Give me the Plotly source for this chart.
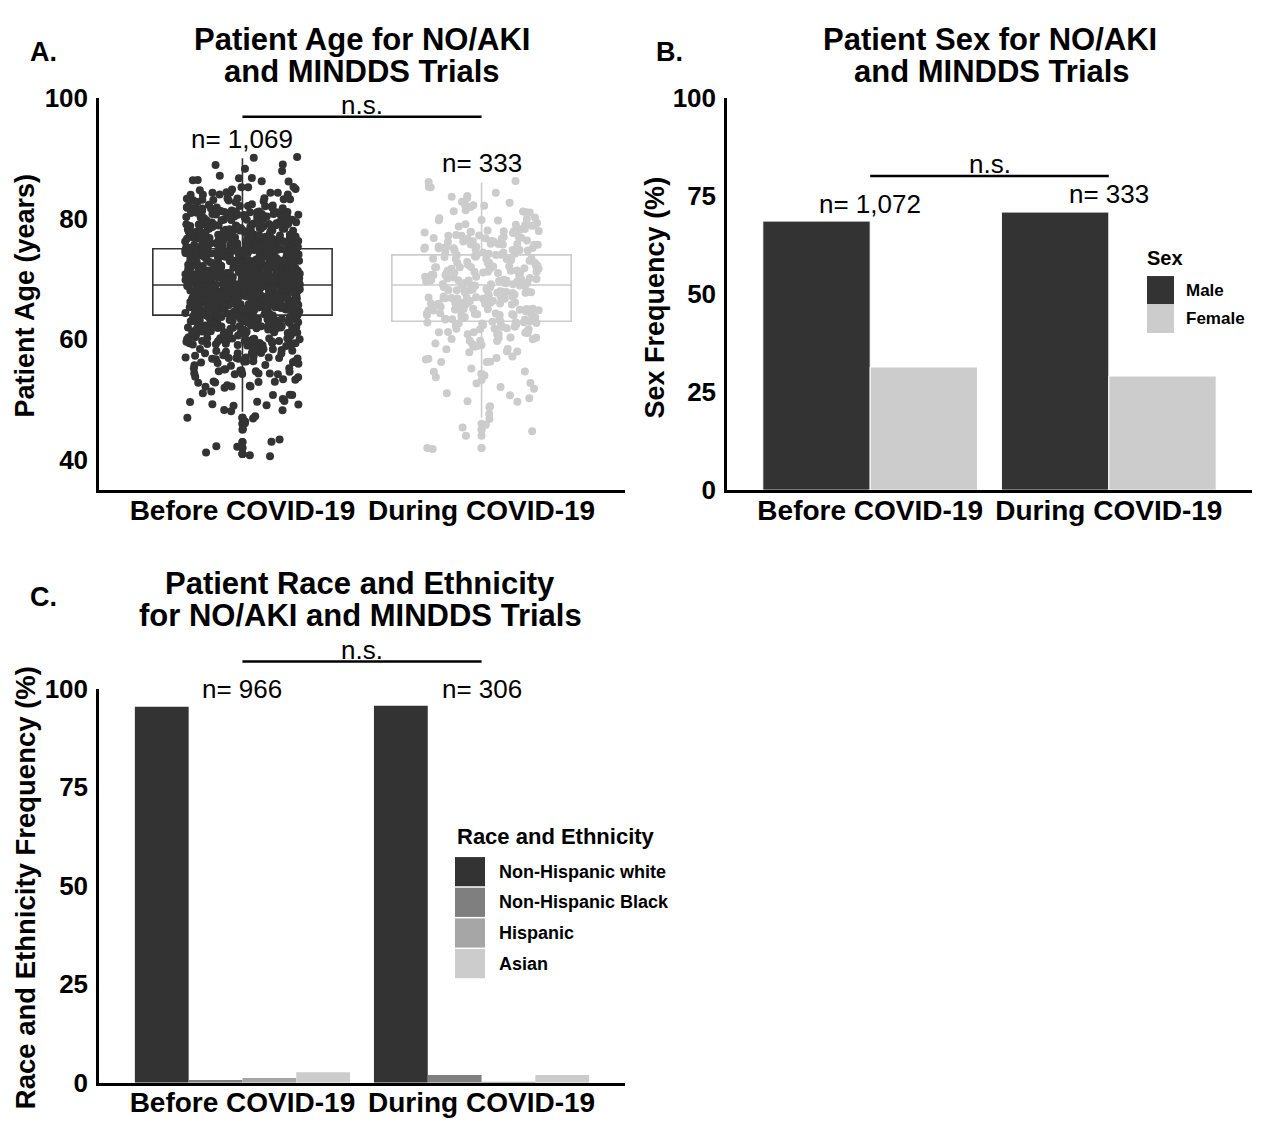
import math
import plotly.graph_objects as go

# ---------------- data ----------------
categories = ["Before COVID-19", "During COVID-19"]

# Panel A: patient ages (count of patients per age, read from the jitter cloud)
ages_before = list(range(41, 91))
counts_before = [3, 2, 2, 0, 1, 2, 3, 3, 4, 4,
                 5, 6, 7, 8, 9, 11, 13, 15, 19, 23,
                 28, 32, 36, 40, 46, 50, 52, 56, 56, 55,
                 53, 51, 49, 46, 43, 39, 34, 30, 27, 25,
                 22, 18, 13, 9, 6, 4, 3, 2, 2, 2]
ages_during = list(range(42, 87))
counts_during = [2, 0, 1, 2, 1, 1, 1, 2, 3, 2,
                 2, 3, 3, 3, 3, 4, 5, 6, 8, 10,
                 12, 14, 15, 15, 16, 16, 16, 16, 15, 15,
                 14, 13, 12, 14, 13, 12, 11, 7, 6, 5,
                 4, 3, 3, 2, 2]

box_q1 = [64, 63]
box_median = [69, 69]
box_q3 = [75, 74]
box_lowerfence = [48, 47]
box_upperfence = [90, 86]
n_age = ["n= 1,069", "n= 333"]
n_age_y = [93.2, 89.2]
ns_age_y = 96.9

# Panel B: sex frequency (%)
sex_groups = ["Male", "Female"]
sex_male = [68.6, 70.9]
sex_female = [31.4, 29.1]
n_sex = ["n= 1,072", "n= 333"]
n_sex_y = [73.0, 75.4]
ns_sex_y = 80.1

# Panel C: race and ethnicity frequency (%)
race_groups = ["Non-Hispanic white", "Non-Hispanic Black", "Hispanic", "Asian"]
race_nhw = [95.4, 95.7]
race_nhb = [0.7, 2.0]
race_hisp = [1.2, 0.3]
race_asian = [2.7, 2.0]
n_race = ["n= 966", "n= 306"]
n_race_y = [100.0, 100.0]
ns_race_y = 106.9

# ---------------- styles ----------------
OFF = 8                      # page body margin
W, H = 1262 - OFF, 1129 - OFF
FONT = "Liberation Sans, Arial, sans-serif"
DARK = "#333333"
LIGHT = "#cccccc"
race_colors = ["#333333", "#7f7f7f", "#a6a6a6", "#cccccc"]
sex_colors = [DARK, LIGHT]
group_colors = [DARK, LIGHT]
JIT_W, JIT_H = 0.24, 0.4
PT = 8


def px(x):
    return (x - OFF) / W


def py(y):
    return 1 - (y - OFF) / H


def scramble(i, k):
    """deterministic scatter offset in [0, 1) used only for jitter placement"""
    v = math.sin(i * 12.9898 + k * 78.233) * 43758.5453
    return v - math.floor(v)


fig = go.Figure()

# ---------------- Panel A ----------------
groups = [(ages_before, counts_before), (ages_during, counts_during)]
for gi in range(2):
    fig.add_trace(go.Box(
        x=[gi], q1=[box_q1[gi]], median=[box_median[gi]], q3=[box_q3[gi]],
        lowerfence=[box_lowerfence[gi]], upperfence=[box_upperfence[gi]],
        width=0.75, whiskerwidth=0, fillcolor="white",
        line=dict(color=group_colors[gi], width=1.6),
        boxpoints=False, showlegend=False, xaxis="x", yaxis="y", hoverinfo="skip"))

for gi, (ages, counts) in enumerate(groups):
    values = [a for a, c in zip(ages, counts) for _ in range(c)]
    outl = [v for v in values if v < box_lowerfence[gi] or v > box_upperfence[gi]]
    fig.add_trace(go.Scatter(
        x=[gi] * len(outl), y=outl, mode="markers", xaxis="x", yaxis="y",
        marker=dict(color=group_colors[gi], size=PT, line=dict(width=0)),
        showlegend=False, hoverinfo="skip"))
    xs, ys = [], []
    for i, v in enumerate(values):
        jx = (scramble(i, 1 + gi) - 0.5) * 2 * JIT_W
        jy = (scramble(i, 11 + gi) - 0.5) * 2 * JIT_H
        xs.append(gi + jx)
        ys.append(v + jy)
    fig.add_trace(go.Scatter(
        x=xs, y=ys, mode="markers", xaxis="x", yaxis="y",
        marker=dict(color=group_colors[gi], size=PT, line=dict(width=0)),
        showlegend=False, hoverinfo="skip"))

# ---------------- Panel B ----------------
for si, (name, vals) in enumerate(zip(sex_groups, [sex_male, sex_female])):
    fig.add_trace(go.Bar(
        x=[0, 1], y=vals, name=name,
        marker=dict(color=sex_colors[si], line=dict(color="white", width=1)),
        xaxis="x2", yaxis="y2", showlegend=False, offsetgroup=str(si)))

# ---------------- Panel C ----------------
for ri, (name, vals) in enumerate(zip(race_groups, [race_nhw, race_nhb, race_hisp, race_asian])):
    fig.add_trace(go.Bar(
        x=[0, 1], y=vals, name=name, marker=dict(color=race_colors[ri], line=dict(width=0)),
        xaxis="x3", yaxis="y3", showlegend=False, offsetgroup=str(ri)))

# ---------------- axes ----------------
ytick_font = dict(family=FONT, size=26, color="black", weight="bold")
xtick_font = dict(family=FONT, size=28, color="black", weight="bold")
common_x = dict(range=[-0.6, 1.6], tickvals=[0, 1], ticktext=categories, showline=True,
                linecolor="black", linewidth=2.5, ticks="", showgrid=False, zeroline=False,
                tickfont=xtick_font, fixedrange=True, ticklabelstandoff=-7)
common_y = dict(showline=True, linecolor="black", linewidth=2.5, ticks="", showgrid=False,
                zeroline=False, tickfont=ytick_font, fixedrange=True, ticklabelstandoff=3)

yA = [35, 100]
yB = [0, 100]
yC = [0, 100]

fig.update_layout(
    xaxis=dict(common_x, domain=[px(99), px(625)], anchor="y"),
    yaxis=dict(common_y, domain=[py(488), py(85)], range=yA, tickvals=[40, 60, 80, 100], anchor="x"),
    xaxis2=dict(common_x, domain=[px(727), px(1252)], anchor="y2"),
    yaxis2=dict(common_y, domain=[py(488), py(85)], range=yB, tickvals=[0, 25, 50, 75, 100], anchor="x2"),
    xaxis3=dict(common_x, domain=[px(99), px(625)], anchor="y3"),
    yaxis3=dict(common_y, domain=[py(1097), py(692)], range=yC, tickvals=[0, 25, 50, 75, 100], anchor="x3"),
    barmode="group", bargap=0.1, bargroupgap=0,
    width=W, height=H, margin=dict(l=0, r=0, t=0, b=0),
    plot_bgcolor="white", paper_bgcolor="white",
    font=dict(family=FONT, color="black"),
)

ann = []
shapes = []


def text(x, y, s, size, bold=False, xanchor="center", angle=0, xref="paper", yref="paper"):
    ann.append(dict(x=x, y=y, xref=xref, yref=yref, text=s, showarrow=False,
                    xanchor=xanchor, yanchor="middle", textangle=angle,
                    font=dict(family=FONT, size=size, color="black",
                              weight="bold" if bold else "normal")))


# panel letters & titles
text(px(43), py(38), "A.", 27, True)
text(px(669), py(38), "B.", 27, True)
text(px(43), py(598), "C.", 27, True)
text(px(362), py(25), "Patient Age for NO/AKI", 31, True)
text(px(362), py(58), "and MINDDS Trials", 31, True)
text(px(990), py(25), "Patient Sex for NO/AKI", 31, True)
text(px(992), py(58), "and MINDDS Trials", 31, True)
text(px(360), py(584), "Patient Race and Ethnicity", 31, True)
text(px(360), py(617), "for NO/AKI and MINDDS Trials", 31, True)

# axis titles
text(px(25), py(288), "Patient Age (years)", 27, True, angle=-90)
text(px(655), py(290), "Sex Frequency (%)", 27, True, angle=-90)
text(px(25), py(897), "Race and Ethnicity Frequency (%)", 27.5, True, angle=-90)

# n labels and significance brackets
for i in range(2):
    text(i, n_age_y[i], n_age[i], 26, xref="x", yref="y")
    text(i, n_sex_y[i], n_sex[i], 26, xref="x2", yref="y2")
    text(i, n_race_y[i] / yC[1], n_race[i], 26, xref="x3", yref="y3 domain")

shapes.append(dict(type="line", xref="x", yref="y", x0=0, x1=1, y0=ns_age_y, y1=ns_age_y,
                   line=dict(color="black", width=2.5)))
text(0.5, ns_age_y + 2.0, "n.s.", 26, xref="x", yref="y")
shapes.append(dict(type="line", xref="x2", yref="y2", x0=0, x1=1, y0=ns_sex_y, y1=ns_sex_y,
                   line=dict(color="black", width=2.5)))
text(0.5, ns_sex_y + 3.0, "n.s.", 26, xref="x2", yref="y2")
shapes.append(dict(type="line", xref="x3", yref="y3 domain", x0=0, x1=1,
                   y0=ns_race_y / yC[1], y1=ns_race_y / yC[1], line=dict(color="black", width=2.5)))
text(0.5, (ns_race_y + 2.8) / yC[1], "n.s.", 26, xref="x3", yref="y3 domain")

# custom legend: Sex
text(px(1145), py(249), "Sex", 20, True, xanchor="left")
for i, (name, col) in enumerate(zip(sex_groups, sex_colors)):
    top = 268 + i * 29.5
    shapes.append(dict(type="rect", xref="paper", yref="paper", x0=px(1147), x1=px(1174),
                       y0=py(top + 29), y1=py(top), fillcolor=col, line=dict(width=0)))
    text(px(1184), py(top + 14.5), name, 17, True, xanchor="left")

# custom legend: Race and Ethnicity
text(px(455), py(844), "Race and Ethnicity", 22, True, xanchor="left")
for i, (name, col) in enumerate(zip(race_groups, race_colors)):
    top = 865 + i * 31.5
    shapes.append(dict(type="rect", xref="paper", yref="paper", x0=px(455), x1=px(485),
                       y0=py(top + 30), y1=py(top), fillcolor=col, line=dict(width=0)))
    text(px(497), py(top + 15), name, 18, True, xanchor="left")

fig.update_layout(annotations=ann, shapes=shapes)
fig.write_html("out.html")
